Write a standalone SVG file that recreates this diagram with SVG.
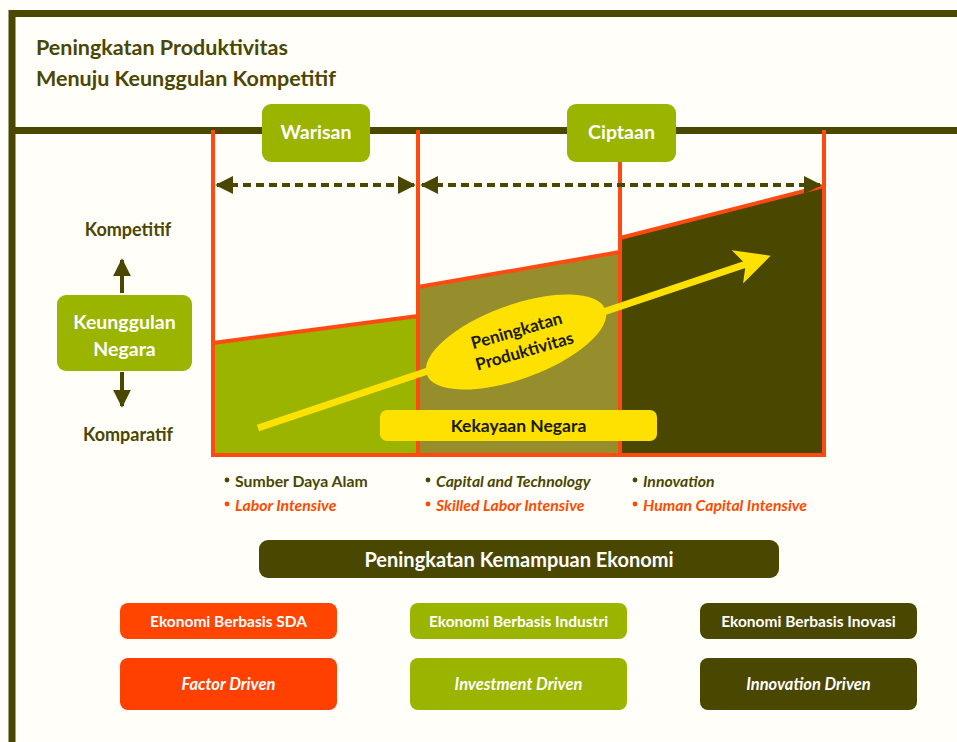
<svg xmlns="http://www.w3.org/2000/svg" width="957" height="742" viewBox="0 0 957 742">
<defs>
<style>
.t{font-family:Lato,"Liberation Sans",Arial,sans-serif;font-weight:bold}
.dk{fill:#4a4700}
.or{fill:#ff4a00}
.w{fill:#ffffff}
.it{font-style:italic}
.frame{stroke:#4a4700;stroke-width:7;fill:none}
.ol{stroke:#ff4a12;stroke-width:4;fill:none}
.dash{stroke:#4a4700;stroke-width:4;stroke-dasharray:8 5;fill:none}
</style>
<marker id="ah" viewBox="0 0 10 10" refX="9" refY="5" markerWidth="4.5" markerHeight="4.5" orient="auto-start-reverse" markerUnits="strokeWidth">
<path d="M0,0 L10,5 L0,10 z" fill="#4a4700"/>
</marker>
<marker id="ya" viewBox="0 0 10 10" refX="8" refY="5" markerWidth="5" markerHeight="5" orient="auto" markerUnits="strokeWidth">
<path d="M0,0 L10,5 L0,10 L2.5,5 z" fill="#ffe100"/>
</marker>
</defs>
<rect width="957" height="742" fill="#fffef8"/>
<g id="frame">
<path class="frame" d="M12,742 V13.5 H957"/>
<path class="frame" d="M12,130.5 H957"/>
</g>
<g id="title">
<text class="t dk" x="36" y="55" font-size="21.5">Peningkatan Produktivitas</text>
<text class="t dk" x="36" y="86" font-size="21.5">Menuju Keunggulan Kompetitif</text>
</g>
<g id="chart">
<polygon points="213,343 418,316 418,455 213,455" fill="#9ab400"/>
<polygon points="418,287 620,252 620,455 418,455" fill="#968e2c"/>
<polygon points="620,238 824,186 824,455 620,455" fill="#4a4700"/>
<path class="ol" d="M213,343 L418,316 M418,287 L620,252 M620,238 L824,186"/>
<path class="ol" d="M213,130 V455 H824 V130 M418,130 V455 M620,160 V455"/>
</g>
<g id="warisan">
<rect x="262" y="104" width="108" height="58" rx="9" fill="#9ab400"/>
<text class="t w" x="316" y="139" font-size="19.5" text-anchor="middle">Warisan</text>
</g>
<g id="ciptaan">
<rect x="567" y="104" width="109" height="58" rx="9" fill="#9ab400"/>
<text class="t w" x="621.5" y="139" font-size="19.5" text-anchor="middle">Ciptaan</text>
</g>
<g id="connectors">
<line class="dash" x1="217" y1="185" x2="414" y2="185" marker-start="url(#ah)" marker-end="url(#ah)"/>
<line class="dash" x1="422" y1="185" x2="820" y2="185" marker-start="url(#ah)" marker-end="url(#ah)"/>
<line x1="122" y1="293" x2="122" y2="260" stroke="#4a4700" stroke-width="4" marker-end="url(#ah)"/>
<line x1="122" y1="372" x2="122" y2="406" stroke="#4a4700" stroke-width="4" marker-end="url(#ah)"/>
<line x1="258" y1="428" x2="764" y2="258" stroke="#ffe100" stroke-width="7" marker-end="url(#ya)"/>
</g>
<g id="peningkatan-produktivitas">
<ellipse cx="516" cy="342" rx="95" ry="37" transform="rotate(-20 516 342)" fill="#ffe100"/>
<g transform="rotate(-16 520 343)">
<text class="t" x="520" y="336" font-size="17" text-anchor="middle" fill="#1a1a00">Peningkatan</text>
<text class="t" x="522" y="358" font-size="17" text-anchor="middle" fill="#1a1a00">Produktivitas</text>
</g>
</g>
<g id="kekayaan">
<rect x="380" y="410" width="277" height="31" rx="7" fill="#ffe100"/>
<text class="t" x="518.5" y="432" font-size="17.5" text-anchor="middle" fill="#1a1a00">Kekayaan Negara</text>
</g>
<g id="kompetitif">
<text class="t dk" x="128" y="236" font-size="18" text-anchor="middle">Kompetitif</text>
</g>
<g id="keunggulan">
<rect x="57" y="295" width="135" height="76" rx="9" fill="#9ab400"/>
<text class="t w" x="124.5" y="329" font-size="19.5" text-anchor="middle">Keunggulan</text>
<text class="t w" x="124.5" y="356" font-size="19.5" text-anchor="middle">Negara</text>
</g>
<g id="komparatif">
<text class="t dk" x="128" y="441" font-size="18" text-anchor="middle">Komparatif</text>
</g>
<g id="bullets">
<g font-size="15.8">
<circle cx="227" cy="480" r="2.4" fill="#4a4700"/>
<text class="t dk" x="235" y="487">Sumber Daya Alam</text>
<circle cx="227" cy="504" r="2.4" fill="#ff4a00"/>
<text class="t or it" x="235" y="511">Labor Intensive</text>
<circle cx="428" cy="480" r="2.4" fill="#4a4700"/>
<text class="t dk it" x="436" y="487">Capital and Technology</text>
<circle cx="428" cy="504" r="2.4" fill="#ff4a00"/>
<text class="t or it" x="436" y="511">Skilled Labor Intensive</text>
<circle cx="635" cy="480" r="2.4" fill="#4a4700"/>
<text class="t dk it" x="643" y="487">Innovation</text>
<circle cx="635" cy="504" r="2.4" fill="#ff4a00"/>
<text class="t or it" x="643" y="511">Human Capital Intensive</text>
</g>
</g>
<g id="kemampuan">
<rect x="259" y="540" width="520" height="38" rx="9" fill="#4a4700"/>
<text class="t w" x="519" y="566.5" font-size="20" text-anchor="middle">Peningkatan Kemampuan Ekonomi</text>
</g>
<g id="sda">
<rect x="120" y="603" width="217" height="36" rx="8" fill="#ff4500"/>
<text class="t w" x="228.5" y="627" font-size="15.5" text-anchor="middle">Ekonomi Berbasis SDA</text>
</g>
<g id="industri">
<rect x="410" y="603" width="217" height="36" rx="8" fill="#9ab400"/>
<text class="t w" x="518.5" y="627" font-size="15.5" text-anchor="middle">Ekonomi Berbasis Industri</text>
</g>
<g id="inovasi">
<rect x="700" y="603" width="217" height="36" rx="8" fill="#4a4700"/>
<text class="t w" x="808.5" y="627" font-size="15.5" text-anchor="middle">Ekonomi Berbasis Inovasi</text>
</g>
<g id="factor">
<rect x="120" y="658" width="217" height="52" rx="8" fill="#ff4000"/>
<text class="t w it" x="228.5" y="690" font-size="16.5" text-anchor="middle">Factor Driven</text>
</g>
<g id="investment">
<rect x="410" y="658" width="217" height="52" rx="8" fill="#9ab400"/>
<text class="t w it" x="518.5" y="690" font-size="16.5" text-anchor="middle">Investment Driven</text>
</g>
<g id="innovation">
<rect x="700" y="658" width="217" height="52" rx="8" fill="#4a4700"/>
<text class="t w it" x="808.5" y="690" font-size="16.5" text-anchor="middle">Innovation Driven</text>
</g>
</svg>
